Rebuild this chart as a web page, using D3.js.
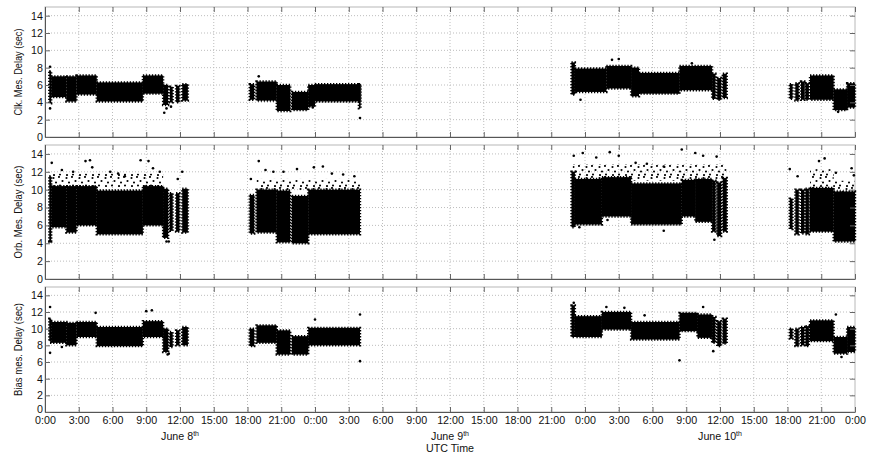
<!DOCTYPE html>
<html>
<head>
<meta charset="utf-8">
<script src="https://cdn.jsdelivr.net/npm/d3@7"></script>
<style>
  body { margin: 0; background: #fff; }
  text { font-family: "Liberation Sans", Arial, sans-serif; fill: #111; }
</style>
</head>
<body>
<div id="chart"></div>
<script>
// hours since June 8th 0:00 UTC
const hourTicks = d3.range(0, 73, 3);
const xTickLabels = ["0:00", "3:00", "6:00", "9:00", "12:00", "15:00", "18:00", "21:00",
    "0::00", "3:00", "6:00", "9:00", "12:00", "15:00", "18:00", "21:00",
    "0:00", "3:00", "6:00", "9:00", "12:00", "15:00", "18:00", "21:00", "0:00"];
const dayLabels = [[12, "June 8"], [36, "June 9"], [60, "June 10"]];
const yTicks = [0, 2, 4, 6, 8, 10, 12, 14];
const panelTitles = ["Clk. Mes. Delay (sec)", "Orb. Mes. Delay (sec)", "Bias mes. Delay (sec)"];

// dense point clouds: [start hour, end hour, low, high]
const clkBlocks = [
    [0.38, 0.55, 3.9, 7.6], [0.55, 1.9, 4.6, 7.0], [1.9, 2.8, 4.1, 7.0], [2.8, 4.6, 4.9, 7.1],
    [4.6, 8.7, 4.1, 6.3], [8.7, 10.5, 5.0, 7.1],
    [10.5, 10.95, 3.7, 6.0], [11.1, 11.35, 4.0, 5.8], [11.65, 11.95, 4.0, 5.9], [12.2, 12.7, 4.2, 6.1],
    [18.2, 18.6, 4.3, 6.1], [18.8, 20.6, 4.2, 6.4], [20.6, 21.8, 3.0, 6.0], [21.95, 23.4, 3.1, 5.2],
    [23.4, 24.0, 3.5, 6.0], [24.0, 28.0, 4.1, 6.1], [27.9, 28.05, 3.3, 6.1],
    [46.8, 47.1, 4.9, 8.6], [47.1, 49.9, 5.2, 7.9], [49.9, 52.1, 5.6, 8.2], [52.1, 52.8, 4.7, 8.0],
    [52.8, 56.4, 5.0, 7.4], [56.4, 59.3, 5.4, 8.2],
    [59.3, 59.6, 4.4, 7.3], [59.75, 60.1, 4.3, 6.8], [60.25, 60.6, 4.5, 7.3],
    [66.2, 66.45, 4.4, 6.1], [66.7, 67.0, 4.2, 6.2], [67.2, 67.5, 4.3, 6.4], [67.6, 67.9, 4.3, 6.2],
    [68.0, 70.1, 4.3, 7.1], [70.1, 71.3, 3.1, 5.5], [71.3, 72.0, 3.4, 6.2]
];
const orbBlocks = [
    [0.38, 0.55, 4.2, 11.5], [0.55, 1.9, 5.8, 10.4], [1.9, 2.8, 5.2, 10.4], [2.8, 4.6, 6.0, 10.4],
    [4.6, 8.7, 5.0, 9.9], [8.7, 10.5, 6.0, 10.4],
    [10.5, 10.95, 4.6, 10.1], [11.1, 11.35, 5.4, 9.6], [11.65, 11.95, 5.3, 9.6], [12.2, 12.7, 5.2, 10.1],
    [18.2, 18.6, 5.1, 9.4], [18.8, 20.6, 5.2, 10.0], [20.6, 21.8, 4.1, 9.9], [21.95, 23.4, 4.0, 9.3],
    [23.4, 28.0, 5.0, 10.0],
    [46.8, 47.1, 5.8, 12.0], [47.1, 49.5, 6.1, 11.2], [49.5, 52.1, 7.0, 11.4], [52.1, 56.6, 6.1, 10.7],
    [56.6, 57.8, 7.0, 11.1], [57.8, 59.3, 6.4, 11.2],
    [59.3, 59.6, 5.3, 11.0], [59.75, 60.1, 4.8, 10.8], [60.25, 60.6, 5.3, 11.3],
    [66.2, 66.45, 5.6, 9.0], [66.7, 67.0, 5.0, 10.0], [67.2, 67.5, 5.1, 10.0], [67.6, 67.9, 5.0, 10.1],
    [68.0, 70.1, 5.3, 10.2], [70.1, 72.0, 4.2, 9.8]
];
const biasBlocks = [
    [0.38, 0.55, 8.5, 11.2], [0.55, 1.9, 8.3, 10.8], [1.9, 2.8, 8.0, 10.7], [2.8, 4.6, 9.0, 10.8],
    [4.6, 8.7, 7.9, 10.2], [8.7, 10.5, 9.0, 10.9],
    [10.5, 10.95, 7.2, 10.0], [11.1, 11.35, 7.8, 9.6], [11.65, 11.95, 8.0, 9.8], [12.2, 12.7, 8.0, 10.2],
    [18.2, 18.6, 7.9, 10.0], [18.8, 20.6, 8.3, 10.4], [20.6, 21.8, 6.9, 9.8], [21.95, 23.4, 6.9, 9.1],
    [23.4, 28.0, 8.0, 10.1],
    [46.8, 47.1, 9.0, 12.8], [47.1, 49.5, 9.0, 11.5], [49.5, 52.1, 9.9, 12.0], [52.1, 56.4, 8.7, 10.8],
    [56.4, 58.0, 9.7, 11.9], [58.0, 59.3, 8.9, 11.7],
    [59.3, 59.6, 8.3, 11.4], [59.75, 60.1, 7.9, 10.9], [60.25, 60.6, 8.2, 11.2],
    [66.2, 66.45, 8.8, 10.0], [66.7, 67.0, 7.9, 10.0], [67.2, 67.5, 8.0, 10.2], [67.6, 67.9, 7.9, 10.3],
    [68.0, 70.1, 8.5, 11.0], [70.1, 71.3, 7.0, 9.0], [71.3, 72.0, 7.2, 10.2]
];

// thinner scatter just outside the dense clouds: [start hour, end hour, low, high]
const clkSparse = [];
const orbSparse = [
    [0.4, 10.5, 10.3, 11.8], [18.8, 28.0, 9.9, 11.2], [46.9, 60.6, 11.0, 12.8],
    [68.0, 70.1, 10.1, 12.3], [70.1, 72.0, 9.7, 11.0]
];
const biasSparse = [];

// isolated points: [hour, value]
const clkDots = [
    [0.45, 8.1], [0.45, 3.3], [10.6, 2.8], [10.8, 3.3], [11.2, 3.5], [28.0, 2.2], [23.8, 3.4],
    [47.6, 4.3], [50.4, 8.9], [51.0, 9.0], [57.5, 8.5], [67.0, 4.7], [70.5, 2.9], [19.0, 7.0]
];
const orbDots = [
    [0.6, 13.0], [1.5, 12.2], [2.5, 12.0], [3.6, 13.2], [4.0, 13.3], [4.2, 12.5], [5.8, 12.0],
    [6.5, 11.8], [7.1, 11.5], [8.5, 13.3], [9.2, 13.2], [9.6, 12.4], [10.2, 12.0], [11.8, 11.2],
    [12.2, 12.0], [10.8, 4.2], [11.0, 4.2], [0.45, 4.2],
    [18.3, 11.2], [19.0, 13.2], [19.6, 12.2], [20.3, 12.0], [21.2, 12.0], [22.4, 12.3], [23.9, 12.5],
    [24.7, 12.6], [25.5, 11.8], [26.5, 11.7], [27.5, 11.5],
    [47.0, 13.8], [47.8, 14.1], [49.0, 13.6], [50.2, 14.2], [51.0, 13.8], [52.5, 13.0], [53.5, 12.9],
    [55.0, 12.6], [56.6, 14.5], [57.8, 14.1], [58.5, 13.8], [59.7, 13.7], [47.5, 5.8], [50.0, 6.6],
    [55.0, 5.4], [59.5, 4.4],
    [66.2, 12.3], [66.9, 11.5], [68.8, 13.2], [69.3, 13.5], [70.3, 11.9], [71.7, 12.4], [71.9, 11.6]
];
const biasDots = [
    [0.45, 12.6], [0.45, 7.1], [1.5, 7.8], [4.5, 11.9], [9.0, 12.1], [9.5, 12.2], [10.9, 6.9],
    [11.0, 7.0], [24.0, 11.1], [28.0, 11.7], [28.0, 6.1], [47.0, 13.1], [49.9, 12.6], [51.5, 12.5],
    [53.3, 11.6], [58.5, 12.6], [56.4, 6.2], [59.4, 7.3], [70.3, 11.7], [70.8, 6.6]
];

const width = 869;
const height = 457;

const svg = d3.select("#chart")
    .append("svg")
    .attr("width", width)
    .attr("height", height);

// speckle fill for the thin scatter zones (irregular dots in one tile)
const pat = svg.append("defs").append("pattern")
    .attr("id", "speckle")
    .attr("patternUnits", "userSpaceOnUse")
    .attr("width", 13).attr("height", 11);
[[1.5, 2], [7, 1], [4, 6.5], [10.5, 5], [8, 9.5], [2, 10]].forEach(([cx, cy]) =>
    pat.append("circle").attr("cx", cx).attr("cy", cy).attr("r", 1.05).attr("fill", "#000"));

const x = d3.scaleLinear().domain([0, 72]).range([45, 855]);

const panels = [
    { title: panelTitles[0], blocks: clkBlocks, sparse: clkSparse, dots: clkDots, top: 7, bottom: 137 },
    { title: panelTitles[1], blocks: orbBlocks, sparse: orbSparse, dots: orbDots, top: 145, bottom: 279 },
    { title: panelTitles[2], blocks: biasBlocks, sparse: biasSparse, dots: biasDots, top: 287, bottom: 412 }
];

panels.forEach((p, i) => {
    const y = d3.scaleLinear().domain([0, 15]).range([p.bottom, p.top]);
    const g = svg.append("g");
    const last = i === panels.length - 1;

    // frame
    g.append("rect")
        .attr("x", x(0)).attr("y", p.top)
        .attr("width", x(72) - x(0)).attr("height", p.bottom - p.top)
        .attr("fill", "none").attr("stroke", "#b8b8b8");

    // dotted grid
    g.selectAll(".vgrid").data(hourTicks.slice(1, -1)).join("line")
        .attr("x1", d => x(d)).attr("x2", d => x(d))
        .attr("y1", p.top).attr("y2", p.bottom)
        .attr("stroke", "#bdbdbd").attr("stroke-dasharray", "1,2");
    g.selectAll(".hgrid").data(yTicks.slice(1)).join("line")
        .attr("x1", x(0)).attr("x2", x(72))
        .attr("y1", d => y(d)).attr("y2", d => y(d))
        .attr("stroke", "#bdbdbd").attr("stroke-dasharray", "1,2");

    // thin scatter, then the dense clouds with a speckled rim
    g.selectAll(".sparse").data(p.sparse).join("rect")
        .attr("x", d => x(d[0]))
        .attr("width", d => x(d[1]) - x(d[0]))
        .attr("y", d => y(d[3]))
        .attr("height", d => y(d[2]) - y(d[3]))
        .attr("fill", "url(#speckle)");
    g.selectAll(".blk").data(p.blocks).join("rect")
        .attr("x", d => x(d[0]))
        .attr("width", d => x(d[1]) - x(d[0]))
        .attr("y", d => y(d[3]))
        .attr("height", d => y(d[2]) - y(d[3]))
        .attr("fill", "#000")
        .attr("stroke", "#000")
        .attr("stroke-width", 2.4)
        .attr("stroke-dasharray", "1.3,1.7");
    g.selectAll(".dot").data(p.dots).join("circle")
        .attr("cx", d => x(d[0])).attr("cy", d => y(d[1]))
        .attr("r", 1.3).attr("fill", "#000");

    // axes, ticks pointing inward
    g.append("g")
        .attr("transform", `translate(0,${p.bottom})`)
        .call(d3.axisBottom(x).tickValues(hourTicks).tickSizeInner(-5).tickSizeOuter(0)
            .tickPadding(4)
            .tickFormat((d, k) => last ? xTickLabels[k] : ""));
    g.append("g")
        .attr("transform", `translate(0,${p.top})`)
        .call(d3.axisTop(x).tickValues(hourTicks).tickSizeInner(-5).tickSizeOuter(0).tickFormat(""))
        .select(".domain").remove();
    const leftAxis = g.append("g")
        .attr("transform", `translate(${x(0)},0)`)
        .call(d3.axisLeft(y).tickValues(yTicks).tickSizeInner(-5).tickSizeOuter(0).tickPadding(2));
    g.append("g")
        .attr("transform", `translate(${x(72)},0)`)
        .call(d3.axisRight(y).tickValues(yTicks).tickSizeInner(-5).tickSizeOuter(0).tickFormat(""))
        .select(".domain").remove();

    g.selectAll(".tick line").attr("stroke", "#666");
    g.selectAll(".domain").attr("stroke", "#555");
    g.selectAll(".tick text").attr("font-size", 10.7).attr("fill", "#111")
        .attr("font-family", "'Liberation Sans', Arial, sans-serif");
    // lift the bottom "0" a little so it clears the hour labels
    if (last) leftAxis.selectAll(".tick text").filter(d => d === 0).attr("dy", "0.05em");

    // y title
    g.append("text")
        .attr("transform", `translate(22,${(p.top + p.bottom) / 2}) rotate(-90)`)
        .attr("text-anchor", "middle")
        .attr("font-size", 11)
        .attr("textLength", i === 0 ? 87 : 93)
        .attr("lengthAdjust", "spacingAndGlyphs")
        .text(p.title);
});

// day labels under the x axis
dayLabels.forEach(([h, label]) => {
    const t = svg.append("text")
        .attr("x", x(h)).attr("y", 440)
        .attr("text-anchor", "middle")
        .attr("font-size", 10.7);
    t.append("tspan").text(label);
    t.append("tspan").attr("dy", -4).attr("font-size", 7).text("th");
});

svg.append("text")
    .attr("x", x(36)).attr("y", 452)
    .attr("text-anchor", "middle")
    .attr("font-size", 10.7)
    .text("UTC Time");
</script>
</body>
</html>
